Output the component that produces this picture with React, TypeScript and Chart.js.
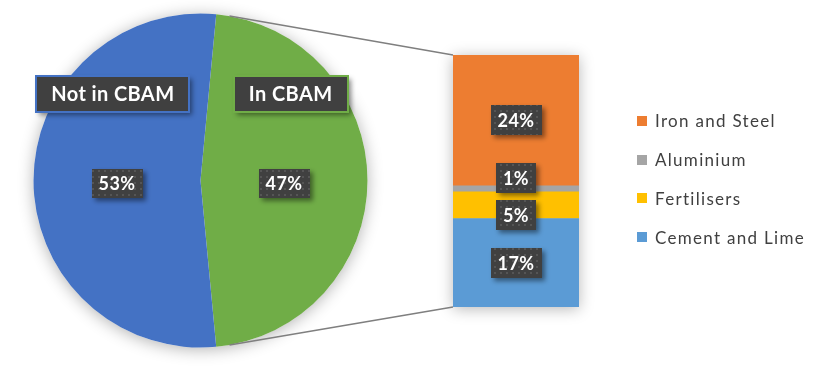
import React, { useEffect, useRef } from 'react';
import { Chart, registerables } from 'chart.js';

Chart.register(...registerables);

// ---- data ----
const pieLabels = ['In CBAM', 'Not in CBAM'];
const pieValues = [47, 53];
const pieColors = ['#70AD47', '#4472C4'];

// stacked bar, bottom to top
const barLabels = ['Cement and Lime', 'Fertilisers', 'Aluminium', 'Iron and Steel'];
const barValues = [16.5, 5.0, 1.1, 24.4];
const barColors = ['#5B9BD5', '#FFC000', '#A5A5A5', '#ED7D31'];

const FONT = 'Lato, "Open Sans", sans-serif';

function makePattern(ctx: CanvasRenderingContext2D) {
  const c = document.createElement('canvas');
  c.width = 6;
  c.height = 6;
  const g = c.getContext('2d')!;
  g.fillStyle = '#404040';
  g.fillRect(0, 0, 6, 6);
  g.fillStyle = '#555555';
  g.fillRect(2, 2, 2, 2);
  return ctx.createPattern(c, 'repeat');
}

function drawBox(
  ctx: CanvasRenderingContext2D,
  cx: number,
  cy: number,
  text: string,
  font: string,
  padX: number,
  h: number,
  fill: any,
  border?: string
) {
  ctx.save();
  ctx.font = font;
  (ctx as any).letterSpacing = '0.4px';
  const w = Math.round(ctx.measureText(text).width + padX * 2);
  const x = Math.round(cx - w / 2);
  const y = Math.round(cy - h / 2);
  ctx.save();
  ctx.shadowColor = 'rgba(0,0,0,0.45)';
  ctx.shadowBlur = 5;
  ctx.shadowOffsetX = 3;
  ctx.shadowOffsetY = 3;
  ctx.fillStyle = fill;
  ctx.fillRect(x, y, w, h);
  ctx.restore();
  if (border) {
    ctx.strokeStyle = border;
    ctx.lineWidth = 2;
    ctx.strokeRect(x, y, w, h);
  }
  ctx.fillStyle = '#ffffff';
  ctx.textAlign = 'center';
  ctx.textBaseline = 'middle';
  ctx.fillText(text, cx, cy + 1);
  ctx.restore();
}

export default function App() {
  const pieRef = useRef<HTMLCanvasElement>(null);
  const barRef = useRef<HTMLCanvasElement>(null);

  useEffect(() => {
    document.body.style.margin = '0';
    const pieCtx = pieRef.current!.getContext('2d')!;
    const barCtx = barRef.current!.getContext('2d')!;
    const piePattern = makePattern(pieCtx);
    const barPattern = makePattern(barCtx);

    const piePlugin = {
      id: 'pieExtras',
      beforeDatasetsDraw(chart: any) {
        const arc = chart.getDatasetMeta(0).data[0];
        const ctx = chart.ctx;
        ctx.save();
        ctx.shadowColor = 'rgba(0,0,0,0.3)';
        ctx.shadowBlur = 16;
        ctx.shadowOffsetY = 2;
        ctx.fillStyle = '#ffffff';
        ctx.beginPath();
        ctx.arc(arc.x, arc.y, arc.outerRadius, 0, Math.PI * 2);
        ctx.fill();
        ctx.restore();
      },
      afterDatasetsDraw(chart: any) {
        const ctx = chart.ctx;
        const meta = chart.getDatasetMeta(0);
        const borders = pieColors;
        meta.data.forEach((arc: any, i: number) => {
          const r = arc.outerRadius;
          const mid = (arc.startAngle + arc.endAngle) / 2;
          const px = arc.x + Math.cos(mid) * r * 0.5;
          const py = arc.y + Math.sin(mid) * r * 0.5 + 3;
          drawBox(
            ctx,
            px,
            py,
            Math.round(pieValues[i]) + '%',
            `bold 18px ${FONT}`,
            7,
            29,
            piePattern
          );
          // category label
          const side = Math.cos(mid) >= 0 ? 1 : -1;
          const lx = arc.x + side * r * (side > 0 ? 0.54 : 0.525);
          const ly = arc.y - r * 0.52;
          drawBox(ctx, lx, ly, pieLabels[i], `bold 20px ${FONT}`, 15, 36, '#404040', borders[i]);
        });
      },
    };

    const pieChart = new Chart(pieCtx, {
      type: 'pie',
      data: {
        labels: pieLabels,
        datasets: [
          {
            data: pieValues,
            backgroundColor: pieColors,
            borderWidth: 0,
          },
        ],
      },
      options: {
        responsive: false,
        animation: false,
        devicePixelRatio: 1,
        rotation: 5.4,
        layout: { padding: { left: 33.5, right: 460.5, top: 13.5, bottom: 22.5 } },
        plugins: { legend: { display: false }, tooltip: { enabled: false } },
        events: [],
      },
      plugins: [piePlugin],
    } as any);

    const barPlugin = {
      id: 'barExtras',
      beforeDatasetsDraw(chart: any) {
        const ctx = chart.ctx;
        const a = chart.chartArea;
        ctx.save();
        ctx.shadowColor = 'rgba(0,0,0,0.28)';
        ctx.shadowBlur = 14;
        ctx.shadowOffsetY = 2;
        ctx.fillStyle = '#ffffff';
        ctx.fillRect(a.left, a.top, a.right - a.left, a.bottom - a.top);
        ctx.restore();
      },
      afterDatasetsDraw(chart: any) {
        const ctx = chart.ctx;
        const a = chart.chartArea;
        // connector lines from pie
        const arc: any = pieChart.getDatasetMeta(0).data[0];
        const ang = (80 * Math.PI) / 180;
        ctx.save();
        ctx.strokeStyle = '#7f7f7f';
        ctx.lineWidth = 1.5;
        ctx.beginPath();
        ctx.moveTo(arc.x + Math.cos(-ang) * arc.outerRadius, arc.y + Math.sin(-ang) * arc.outerRadius);
        ctx.lineTo(a.left, a.top);
        ctx.moveTo(arc.x + Math.cos(ang) * arc.outerRadius, arc.y + Math.sin(ang) * arc.outerRadius);
        ctx.lineTo(a.left, a.bottom);
        ctx.stroke();
        ctx.restore();

        // value labels with simple overlap resolution
        const items: { x: number; y: number; text: string }[] = [];
        chart.data.datasets.forEach((ds: any, i: number) => {
          const el: any = chart.getDatasetMeta(i).data[0];
          items.push({ x: el.x, y: (el.y + el.base) / 2, text: Math.round(ds.data[0]) + '%' });
        });
        items.sort((p, q) => p.y - q.y);
        const gap = 37;
        for (let k = 0; k < items.length - 1; k++) {
          const d = items[k + 1].y - items[k].y;
          if (d < gap) {
            const s = (gap - d) / 2;
            items[k].y -= s;
            items[k + 1].y += s;
          }
        }
        items.forEach((it) => {
          drawBox(ctx, it.x, it.y, it.text, `bold 18px ${FONT}`, 7, 30, barPattern);
        });

        // legend (top to bottom = reverse stack order)
        const ds = chart.data.datasets.slice().reverse();
        ctx.save();
        ctx.font = `17px ${FONT}`;
        (ctx as any).letterSpacing = '1.3px';
        ctx.textBaseline = 'middle';
        ctx.textAlign = 'left';
        ds.forEach((d: any, i: number) => {
          const y = 121 + i * 38.7;
          ctx.fillStyle = d.backgroundColor;
          ctx.fillRect(a.right + 58, Math.round(y - 5), 10, 10);
          ctx.fillStyle = '#404040';
          ctx.fillText(d.label, a.right + 76, y + 1);
        });
        ctx.restore();
      },
    };

    const barChart = new Chart(barCtx, {
      type: 'bar',
      data: {
        labels: ['CBAM'],
        datasets: barLabels.map((l, i) => ({
          label: l,
          data: [barValues[i]],
          backgroundColor: barColors[i],
          borderWidth: 0,
          barPercentage: 1,
          categoryPercentage: 1,
        })),
      },
      options: {
        responsive: false,
        animation: false,
        devicePixelRatio: 1,
        layout: { padding: { left: 453, right: 249, top: 55, bottom: 63 } },
        scales: {
          x: { stacked: true, display: false },
          y: { stacked: true, display: false, min: 0, max: 47 },
        },
        plugins: { legend: { display: false }, tooltip: { enabled: false } },
        events: [],
      },
      plugins: [barPlugin],
    } as any);

    return () => {
      barChart.destroy();
      pieChart.destroy();
    };
  }, []);

  return (
    <div style={{ position: 'relative', width: 828, height: 370, background: '#ffffff' }}>
      <canvas
        ref={pieRef}
        width={828}
        height={370}
        style={{ position: 'absolute', left: 0, top: 0, width: 828, height: 370 }}
      />
      <canvas
        ref={barRef}
        width={828}
        height={370}
        style={{ position: 'absolute', left: 0, top: 0, width: 828, height: 370 }}
      />
    </div>
  );
}
